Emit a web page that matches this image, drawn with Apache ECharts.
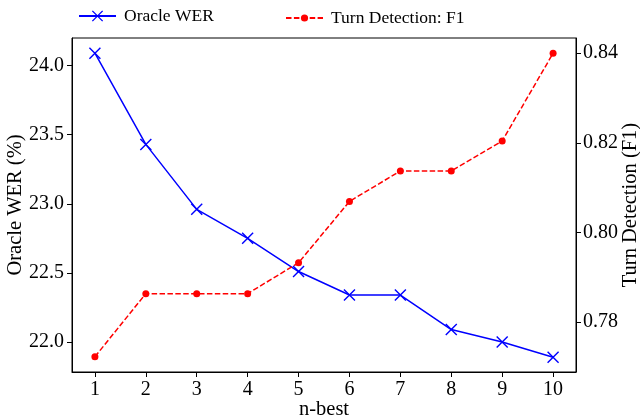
<!DOCTYPE html>
<html>
<head>
<meta charset="utf-8">
<script src="https://cdn.jsdelivr.net/npm/echarts@6/dist/echarts.min.js"></script>
<style>
html, body { margin: 0; padding: 0; background: #fff; }
#chart { width: 640px; height: 419px; }
</style>
</head>
<body>
<div id="chart"></div>
<script>
var nBest = [1, 2, 3, 4, 5, 6, 7, 8, 9, 10];
var oracleWer = [24.09, 23.43, 22.96, 22.75, 22.51, 22.34, 22.34, 22.09, 22.00, 21.89];
var turnF1 = [0.7722, 0.7863, 0.7863, 0.7863, 0.7932, 0.8069, 0.8137, 0.8137, 0.8204, 0.8400];
var werTicks = [22.0, 22.5, 23.0, 23.5, 24.0];
var f1Ticks = [0.78, 0.80, 0.82, 0.84];

var font = 'Liberation Serif';
var crossPath = 'path://M0,1L1,0L12,11L11,12ZM11,0L12,1L1,12L0,11Z';

function pairs(xs, ys) {
    var out = [];
    for (var i = 0; i < xs.length; i++) out.push([xs[i], ys[i]]);
    return out;
}

var chart = echarts.init(document.getElementById('chart'), null, { renderer: 'canvas' });
var option = {
    animation: false,
    backgroundColor: '#fff',
    textStyle: { fontFamily: font, color: '#000' },
    grid: {
        left: 72, right: 64, top: 38, bottom: 47,
        containLabel: false,
        outerBoundsMode: 'none',
        show: true, borderColor: '#000', borderWidth: 1, backgroundColor: 'transparent'
    },
    legend: [
        {
            data: ['Oracle WER'],
            left: 73, top: 2,
            itemWidth: 37, itemHeight: 14,
            textStyle: { fontFamily: font, fontSize: 17.5, color: '#000', padding: [0, 0, 0, 3] }
        },
        {
            data: ['Turn Detection: F1'],
            left: 280, top: 4,
            itemWidth: 37, itemHeight: 9,
            textStyle: { fontFamily: font, fontSize: 17.5, color: '#000', padding: [0, 0, 0, 3] }
        }
    ],
    xAxis: {
        type: 'value',
        min: 0.55, max: 10.45,
        name: 'n-best',
        nameLocation: 'middle',
        nameGap: 27,
        nameMoveOverlap: false,
        nameTextStyle: { fontFamily: font, fontSize: 20.5, color: '#000' },
        splitLine: { show: false },
        axisLine: { lineStyle: { color: '#000', width: 1 } },
        axisTick: { show: true, length: 5, lineStyle: { color: '#000' }, customValues: nBest },
        axisLabel: { fontFamily: font, fontSize: 20, color: '#000', margin: 8, customValues: nBest }
    },
    yAxis: [
        {
            type: 'value',
            position: 'left',
            min: 21.783, max: 24.2,
            name: 'Oracle WER (%)',
            nameLocation: 'middle',
            nameGap: 46,
            nameMoveOverlap: false,
            nameTextStyle: { fontFamily: font, fontSize: 20.5, color: '#000' },
            splitLine: { show: false },
            axisLine: { show: true, lineStyle: { color: '#000', width: 1 } },
            axisTick: { show: true, length: 5, lineStyle: { color: '#000' }, customValues: werTicks },
            axisLabel: {
                fontFamily: font, fontSize: 20, color: '#000', margin: 8, customValues: werTicks,
                formatter: function (v) { return v.toFixed(1); }
            }
        },
        {
            type: 'value',
            position: 'right',
            min: 0.7688, max: 0.8434,
            name: 'Turn Detection (F1)',
            nameLocation: 'middle',
            nameGap: 44,
            nameMoveOverlap: false,
            nameTextStyle: { fontFamily: font, fontSize: 20.5, color: '#000' },
            splitLine: { show: false },
            axisLine: { show: true, lineStyle: { color: '#000', width: 1 } },
            axisTick: { show: true, length: 5, lineStyle: { color: '#000' }, customValues: f1Ticks },
            axisLabel: {
                fontFamily: font, fontSize: 20, color: '#000', margin: 7, customValues: f1Ticks,
                formatter: function (v) { return v.toFixed(2); }
            }
        }
    ],
    series: [
        {
            name: 'Oracle WER',
            type: 'line',
            yAxisIndex: 0,
            data: pairs(nBest, oracleWer),
            symbol: crossPath,
            symbolSize: 12,
            showAllSymbol: true,
            itemStyle: { color: '#0000ff' },
            lineStyle: { color: '#0000ff', width: 1.5 }
        },
        {
            name: 'Turn Detection: F1',
            type: 'line',
            yAxisIndex: 1,
            data: pairs(nBest, turnF1),
            symbol: 'circle',
            symbolSize: 7,
            showAllSymbol: true,
            itemStyle: { color: '#ff0000' },
            lineStyle: { color: '#ff0000', width: 1.5, type: [5.5, 2.4] }
        }
    ]
};
chart.setOption(option);
</script>
</body>
</html>
